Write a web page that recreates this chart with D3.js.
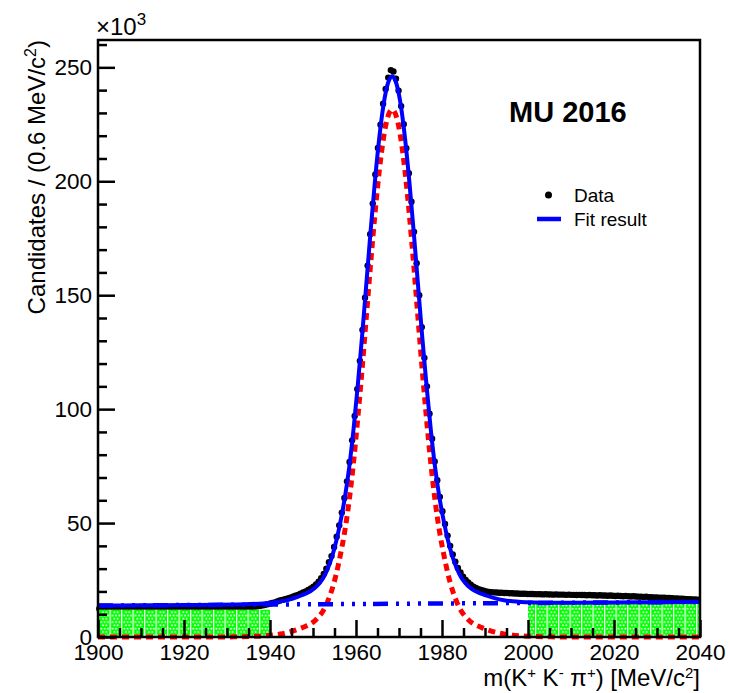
<!DOCTYPE html>
<html><head><meta charset="utf-8">
<script src="https://cdn.jsdelivr.net/npm/d3@7"></script>
<style>body{margin:0;background:#fff;} text{font-family:"Liberation Sans",Arial,sans-serif;fill:#000;}</style>
</head><body><svg id="c" width="730" height="693"></svg>
<script>
// ---- data (values in units of 10^3 candidates) ----
const binStart = 1900.3, binWidth = 0.6;
const dataValues = [
12.4,12.2,12.3,12.5,12.3,12.2,12.4,12.3,12.1,12.3,
12.4,12.3,12.2,12.4,12.3,12.5,12.3,12.2,12.3,12.4,
12.3,12.2,12.4,12.3,12.3,12.5,12.4,12.2,12.3,12.4,
12.3,12.5,12.4,12.3,12.4,12.3,12.5,12.4,12.3,12.5,
12.4,12.5,12.6,12.4,12.5,12.6,12.5,12.7,12.6,12.7,
12.6,12.8,12.7,12.8,12.9,12.8,13.0,12.9,13.1,13.2,
13.3,13.4,13.6,13.8,14.0,14.3,14.6,14.9,15.2,15.6,
16.0,16.3,16.6,16.9,17.3,17.7,18.1,18.5,19.0,19.5,
20.0,20.6,21.3,22.1,23.1,24.3,25.8,27.7,30.0,32.8,
35.5,39.5,44.0,49.0,54.6,61.0,68.3,76.8,86.3,97.0,
108.8,121.2,134.8,148.9,163.0,176.8,190.2,203.0,214.6,224.8,
234.0,240.5,245.5,248.8,248.2,245.0,239.8,233.0,225.0,214.5,
203.5,191.0,177.8,164.0,150.0,136.0,122.5,110.0,98.0,87.0,
77.0,68.8,61.5,55.2,49.6,44.5,40.0,36.2,33.0,30.3,
28.3,26.5,25.0,23.9,22.9,22.1,21.5,21.0,20.6,20.3,
20.0,19.8,19.7,19.6,19.5,19.4,19.4,19.3,19.3,19.2,
19.2,19.1,19.1,19.0,19.0,19.0,18.9,18.9,18.9,18.8,
18.8,18.8,18.7,18.8,18.7,18.7,18.6,18.7,18.6,18.6,
18.6,18.5,18.6,18.5,18.5,18.4,18.5,18.4,18.4,18.3,
18.4,18.3,18.3,18.2,18.3,18.2,18.2,18.1,18.2,18.1,
18.0,18.1,18.0,17.9,18.0,17.9,17.8,17.9,17.8,17.7,
17.7,17.6,17.7,17.5,17.5,17.4,17.4,17.3,17.2,17.3,
17.1,17.1,17.0,16.9,16.9,16.8,16.8,16.7,16.6,16.6,
16.5,16.5,16.4];
const fitMass = [1900,1910,1920,1928.4,1932.4,1935.4,1938.4,1940.4,1942.4,1944.4,
1946.4,1947.4,1948.4,1949.4,1950.4,1951.4,1952.4,1953.4,1954.4,1955.4,
1956.4,1957.4,1958.4,1959.4,1960.4,1961.4,1962.4,1963.4,1964.4,1965.4,
1966.4,1967.4,1968.4,1969.4,1970.4,1971.4,1972.4,1973.4,1974.4,1975.4,
1976.4,1977.4,1978.4,1979.4,1980.4,1981.4,1982.4,1983.4,1984.4,1985.4,
1986.4,1987.4,1988.4,1989.4,1990.4,1992.4,1994.4,1996.4,1998.4,2001.4,
2004.4,2008.4,2020,2030,2040];
const fitTotal = [13.80,13.91,14.03,14.12,14.27,14.45,14.74,15.06,15.58,16.41,
17.63,18.34,19.15,20.06,21.47,23.38,25.99,29.90,35.12,42.03,
50.74,61.05,74.16,90.67,110.18,131.69,154.90,178.22,199.93,218.84,
233.55,242.86,246.07,242.88,233.59,218.90,200.01,178.33,155.04,131.85,
110.36,90.87,74.38,61.29,51.00,42.31,35.43,30.24,26.35,23.76,
21.87,20.48,19.59,18.80,18.11,16.94,16.16,15.68,15.40,15.19,
15.07,15.02,15.17,15.28,15.40];
const fitSignal = [0,0,0,0,0.1,0.25,0.5,0.8,1.3,2.1,
3.3,4.0,4.8,5.7,7.1,9.0,11.6,15.5,20.7,27.6,
36.3,46.6,59.7,76.2,95.7,117.2,140.4,163.7,185.4,204.3,
219.0,228.3,231.5,228.3,219.0,204.3,185.4,163.7,140.4,117.2,
95.7,76.2,59.7,46.6,36.3,27.6,20.7,15.5,11.6,9.0,
7.1,5.7,4.8,4.0,3.3,2.1,1.3,0.8,0.5,0.25,
0.1,0,0,0,0];
const bkgMass = [1900, 2040];
const bkgValues = [13.8, 15.4];
const sidebandLo = [1900, 2000];
const sidebandHi = [1940, 2040];
const sidebandLevel = [12.0, 14.6];
const xMajorTicks = [1900,1920,1940,1960,1980,2000,2020,2040];
const yMajorTicks = [0,50,100,150,200,250];
const legendLabels = ["Data","Fit result"];

// ---- chart ----
const svg = d3.select("#c");
const x = d3.scaleLinear().domain([1900,2040]).range([98,700]);
const y = d3.scaleLinear().domain([0,262]).range([637,40]);

const defs = svg.append("defs");
const pat = defs.append("pattern").attr("id","hatch").attr("patternUnits","userSpaceOnUse")
  .attr("x",98).attr("y",0).attr("width",11.5).attr("height",6.6);
pat.append("rect").attr("width",11.5).attr("height",6.6).attr("fill","#00ff00");
pat.append("rect").attr("x",0).attr("width",1.3).attr("height",6.6).attr("fill","#fff");
[[3.3,1.6],[6.6,1.6],[9.9,1.6],[4.9,4.9],[8.2,4.9]].forEach(p=>{
  pat.append("circle").attr("cx",p[0]).attr("cy",p[1]).attr("r",0.95).attr("fill","#fff");
});

// data points
svg.append("g").selectAll("circle").data(dataValues).join("circle")
  .attr("cx",(d,i)=>x(binStart+binWidth*i)).attr("cy",d=>y(d)).attr("r",3.2).attr("fill","#000");

// sideband fills
svg.append("g").selectAll("rect").data(sidebandLo).join("rect")
  .attr("x",(d)=>x(d)).attr("width",(d,i)=>x(sidebandHi[i])-x(d))
  .attr("y",(d,i)=>y(sidebandLevel[i])).attr("height",(d,i)=>y(0)-y(sidebandLevel[i]))
  .attr("fill","url(#hatch)");

const lineOf = (xs, ys) => d3.line().x((d,i)=>x(xs[i])).y(d=>y(d)).curve(d3.curveMonotoneX)(ys);

svg.append("path").attr("d",lineOf(fitMass,fitSignal)).attr("fill","none")
  .attr("stroke","#ff0000").attr("stroke-width",5).attr("stroke-dasharray","7,5");
svg.append("path").attr("d",d3.line().x((d,i)=>x(bkgMass[i])).y(d=>y(d))(bkgValues)).attr("fill","none")
  .attr("stroke","#0000ff").attr("stroke-width",4.5).attr("stroke-dasharray","15,8,3,8,3,8,3,7");
svg.append("path").attr("d",lineOf(fitMass,fitTotal)).attr("fill","none")
  .attr("stroke","#0000ff").attr("stroke-width",4);

// axes
const styleAxis = g => {
  g.select(".domain").remove();
  g.selectAll("line").attr("stroke","#000").attr("stroke-width",2.5);
  g.selectAll("text").attr("font-size",22.5).attr("fill","#000")
    .attr("font-family","'Liberation Sans',Arial,sans-serif");
};
const yMinor = d3.range(0,261,10).filter(v=>v%50!==0);
const xMinor = d3.range(1900,2041,5).filter(v=>(v-1900)%20!==0);
svg.append("g").attr("transform","translate(98,0)")
  .call(d3.axisLeft(y).tickValues(yMajorTicks).tickSize(-17).tickPadding(6).tickFormat(d3.format("d"))).call(styleAxis);
svg.append("g").attr("transform","translate(98,0)")
  .call(d3.axisLeft(y).tickValues(yMinor).tickSize(-9).tickFormat("")).call(styleAxis);
svg.append("g").attr("transform","translate(0,637)")
  .call(d3.axisBottom(x).tickValues(xMajorTicks).tickSize(-17).tickPadding(7).tickFormat(d3.format("d"))).call(styleAxis);
svg.append("g").attr("transform","translate(0,637)")
  .call(d3.axisBottom(x).tickValues(xMinor).tickSize(-9).tickFormat("")).call(styleAxis);

svg.append("rect").attr("x",98).attr("y",40).attr("width",602).attr("height",597)
  .attr("fill","none").attr("stroke","#000").attr("stroke-width",2.5);

// titles
const xt = svg.append("text").attr("x",700).attr("y",686).attr("text-anchor","end").attr("font-size",24);
xt.append("tspan").text("m(K");
xt.append("tspan").attr("dy",-8).attr("font-size",15).text("+");
xt.append("tspan").attr("dy",8).text(" K");
xt.append("tspan").attr("dy",-8).attr("font-size",15).text("-");
xt.append("tspan").attr("dy",8).text(" \u03c0");
xt.append("tspan").attr("dy",-8).attr("font-size",15).text("+");
xt.append("tspan").attr("dy",8).text(") [MeV/c");
xt.append("tspan").attr("dy",-8).attr("font-size",15).text("2");
xt.append("tspan").attr("dy",8).text("]");

const yt = svg.append("text").attr("transform","translate(45,40) rotate(-90)").attr("text-anchor","end").attr("font-size",24);
yt.append("tspan").text("Candidates / (0.6 MeV/c");
yt.append("tspan").attr("dy",-9).attr("font-size",16).text("2");
yt.append("tspan").attr("dy",9).text(")");

const ex = svg.append("text").attr("x",96).attr("y",35).attr("font-size",24);
ex.append("tspan").text("\u00d710");
ex.append("tspan").attr("dy",-10).attr("font-size",17).text("3");

svg.append("text").attr("x",509).attr("y",122).attr("font-size",29).attr("font-weight","bold").text("MU 2016");

// legend
svg.append("circle").attr("cx",548.5).attr("cy",195).attr("r",3.5).attr("fill","#000");
svg.append("line").attr("x1",537).attr("x2",561).attr("y1",219).attr("y2",219).attr("stroke","#0000ff").attr("stroke-width",4.5);
svg.append("g").selectAll("text").data(legendLabels).join("text")
  .attr("x",574).attr("y",(d,i)=>202+i*24).attr("font-size",19).text(d=>d);
</script></body></html>
